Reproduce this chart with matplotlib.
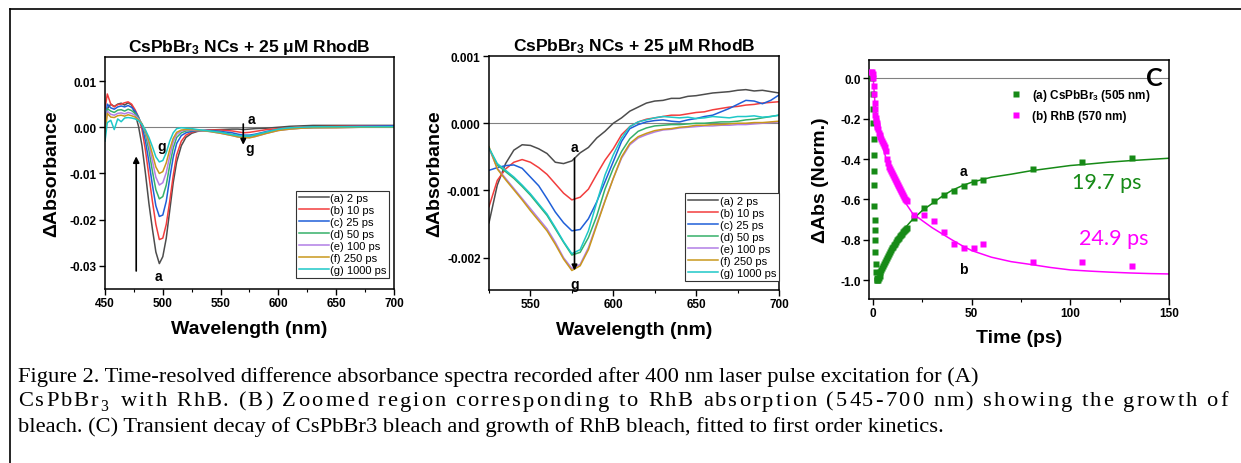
import re
import matplotlib
matplotlib.use("Agg")
import matplotlib.pyplot as plt
from matplotlib.lines import Line2D

plt.rcParams['font.family'] = ['Liberation Sans', 'DejaVu Sans']
plt.rcParams['axes.unicode_minus'] = False
plt.rcParams['mathtext.fontset'] = 'custom'
plt.rcParams['mathtext.rm'] = 'Liberation Serif'
plt.rcParams['mathtext.it'] = 'Liberation Serif:italic'
plt.rcParams['mathtext.bf'] = 'Liberation Sans:bold'
plt.rcParams['mathtext.sf'] = 'Liberation Sans'

# ---------------- data ----------------
labels = ['(a) 2 ps', '(b) 10 ps', '(c) 25 ps', '(d) 50 ps', '(e) 100 ps', '(f) 250 ps', '(g) 1000 ps']
colors = ['#4d4d4d', '#f23d3d', '#1f5fd8', '#35b06a', '#b27ee6', '#c9981c', '#1ec8c8']

# Panel A: full spectra
wl_A = [450, 452, 455, 458, 461, 464, 467, 470, 473, 476, 479, 482, 485, 488, 491, 494, 497, 500,
        503, 506, 509, 512, 516, 520, 525, 530, 540, 550, 560, 565, 570, 575, 580, 590, 600, 610,
        620, 630, 650, 670, 700]
A_a = [0.002, 0.004, 0.005, 0.0045, 0.005, 0.0052, 0.0048, 0.0053, 0.0048, 0.003, 0.0002, -0.004, -0.010,
       -0.0165, -0.022, -0.027, -0.0295, -0.028, -0.024, -0.018, -0.012, -0.0075, -0.004, -0.0022, -0.0013,
       -0.0009, -0.0006, -0.0005, -0.0004, -0.0004, -0.0005, -0.0004, -0.0003, -0.0002, 0.0, 0.0002,
       0.0003, 0.0004, 0.0004, 0.0004, 0.0004]
A_b = [0.004, 0.0072, 0.005, 0.0044, 0.0049, 0.005, 0.0053, 0.0055, 0.005, 0.0038, 0.0022, -0.0005, -0.005,
       -0.0105, -0.016, -0.021, -0.0243, -0.024, -0.021, -0.016, -0.0105, -0.006, -0.003, -0.0017, -0.0011,
       -0.0008, -0.0006, -0.0006, -0.0008, -0.001, -0.0012, -0.0011, -0.0009, -0.0005, -0.0003, -0.0001,
       0.0001, 0.0001, 0.0002, 0.0003, 0.0003]
A_c = [0.001, 0.005, 0.0042, 0.0039, 0.0044, 0.0046, 0.0044, 0.0047, 0.0043, 0.0035, 0.0022, 0.0003, -0.003,
       -0.0075, -0.0125, -0.017, -0.0193, -0.019, -0.016, -0.011, -0.0065, -0.0035, -0.0018, -0.0012, -0.0009,
       -0.0007, -0.0007, -0.0009, -0.0012, -0.0015, -0.0017, -0.0017, -0.0015, -0.0009, -0.0005, -0.0002,
       -0.0001, 0.0, 0.0001, 0.0002, 0.0003]
A_d = [0.0, 0.004, 0.0035, 0.0032, 0.0037, 0.0038, 0.0035, 0.0039, 0.0036, 0.003, 0.002, 0.0007, -0.0015,
       -0.005, -0.0095, -0.0135, -0.0155, -0.015, -0.0125, -0.0082, -0.0045, -0.0022, -0.0012, -0.0008, -0.0007,
       -0.0007, -0.0008, -0.0011, -0.0016, -0.0018, -0.0019, -0.002, -0.0018, -0.0012, -0.0006, -0.0003,
       -0.0002, -0.0001, 0.0, 0.0, 0.0001]
A_e = [-0.0005, 0.0035, 0.0028, 0.0026, 0.003, 0.0031, 0.0029, 0.0032, 0.003, 0.0026, 0.0018, 0.0007, -0.001,
       -0.0037, -0.0073, -0.0108, -0.0125, -0.012, -0.0098, -0.0062, -0.0032, -0.0015, -0.0008, -0.0006, -0.0006,
       -0.0007, -0.0009, -0.0013, -0.0018, -0.0021, -0.0022, -0.0022, -0.002, -0.0013, -0.0007, -0.0004,
       -0.0002, -0.0001, -0.0001, 0.0, 0.0]
A_f = [-0.0015, 0.003, 0.0022, 0.0021, 0.0025, 0.0026, 0.0024, 0.0027, 0.0025, 0.0022, 0.0016, 0.0007, -0.0008,
       -0.003, -0.0058, -0.0086, -0.0100, -0.0096, -0.0077, -0.0048, -0.0024, -0.0011, -0.0006, -0.0005, -0.0005,
       -0.0006, -0.0009, -0.0013, -0.0018, -0.0021, -0.0022, -0.0023, -0.002, -0.0013, -0.0007, -0.0004,
       -0.0002, -0.0001, -0.0001, 0.0, 0.0]
A_g = [-0.003, 0.001, 0.0015, -0.0005, 0.0018, 0.0012, 0.002, 0.0021, 0.002, 0.0018, 0.0014, 0.0006, -0.0006,
       -0.0022, -0.0042, -0.0064, -0.0075, -0.0072, -0.0055, -0.003, -0.0012, -0.0003, -0.0001, -0.0002, -0.0003,
       -0.0005, -0.0008, -0.0011, -0.0016, -0.0018, -0.0019, -0.0019, -0.0016, -0.001, -0.0004, -0.0001,
       0.0, 0.0001, 0.0001, 0.0001, 0.0001]
spectra_A = [A_a, A_b, A_c, A_d, A_e, A_f, A_g]

# Panel B: zoomed RhB region
wl_B = [525, 530, 535, 540, 545, 550, 555, 560, 565, 570, 575, 580, 585, 590, 595, 600, 605, 610,
        615, 620, 625, 630, 635, 640, 645, 650, 655, 660, 665, 670, 675, 680, 685, 690, 695, 700]
B_a = [-0.00148, -0.00092, -0.00060, -0.00040, -0.00032, -0.00033, -0.00038, -0.00045, -0.00058, -0.00060,
       -0.00056, -0.00044, -0.00036, -0.00022, -0.00012, 0.00000, 0.00008, 0.00018, 0.00024, 0.00030,
       0.00033, 0.00034, 0.00037, 0.00037, 0.00040, 0.00041, 0.00043, 0.00045, 0.00046, 0.00047,
       0.00049, 0.00050, 0.00048, 0.00049, 0.00047, 0.00045]
B_b = [-0.00124, -0.00085, -0.00068, -0.00058, -0.00054, -0.00058, -0.00066, -0.00076, -0.00090, -0.00104,
       -0.00114, -0.00110, -0.00098, -0.00076, -0.00055, -0.00038, -0.00017, -0.00005, 0.00002, 0.00006,
       0.00008, 0.00010, 0.00012, 0.00012, 0.00014, 0.00016, 0.00017, 0.00020, 0.00022, 0.00024,
       0.00025, 0.00027, 0.00028, 0.00030, 0.00031, 0.00032]
B_c = [-0.00070, -0.00066, -0.00063, -0.00062, -0.00067, -0.00080, -0.00093, -0.00112, -0.00132, -0.00148,
       -0.00160, -0.00158, -0.00142, -0.00117, -0.00087, -0.00057, -0.00027, -0.00008, -0.00002, 0.00002,
       0.00004, 0.00005, 0.00003, 0.00002, 0.00005, 0.00007, 0.00010, 0.00012, 0.00017, 0.00022,
       0.00028, 0.00034, 0.00033, 0.00029, 0.00034, 0.00042]
B_d = [-0.00037, -0.00062, -0.00072, -0.00082, -0.00094, -0.00107, -0.00122, -0.00137, -0.00157, -0.00177,
       -0.00196, -0.00192, -0.00170, -0.00138, -0.00098, -0.00067, -0.00042, -0.00023, -0.00012, -0.00007,
       -0.00004, -0.00003, -0.00002, -0.00002, -0.00001, 0.00000, 0.00000, 0.00001, 0.00002, 0.00002,
       0.00003, 0.00005, 0.00006, 0.00008, 0.00010, 0.00012]
B_e = [-0.00037, -0.00067, -0.00082, -0.00097, -0.00112, -0.00127, -0.00142, -0.00157, -0.00177, -0.00200,
       -0.00216, -0.00210, -0.00185, -0.00150, -0.00115, -0.00082, -0.00052, -0.00032, -0.00022, -0.00017,
       -0.00013, -0.00010, -0.00009, -0.00007, -0.00006, -0.00005, -0.00004, -0.00004, -0.00003, -0.00003,
       -0.00002, -0.00002, -0.00001, 0.00000, 0.00001, 0.00002]
B_f = [-0.00035, -0.00068, -0.00084, -0.00099, -0.00114, -0.00130, -0.00145, -0.00160, -0.00180, -0.00202,
       -0.00219, -0.00212, -0.00188, -0.00152, -0.00116, -0.00082, -0.00050, -0.00030, -0.00020, -0.00015,
       -0.00011, -0.00009, -0.00008, -0.00006, -0.00005, -0.00003, -0.00003, -0.00002, -0.00002, -0.00001,
       0.00000, 0.00000, 0.00001, 0.00001, 0.00002, 0.00003]
B_g = [-0.00037, -0.00060, -0.00070, -0.00080, -0.00092, -0.00105, -0.00120, -0.00135, -0.00155, -0.00176,
       -0.00194, -0.00188, -0.00160, -0.00118, -0.00077, -0.00047, -0.00022, -0.00005, 0.00002, 0.00005,
       0.00008, 0.00010, 0.00009, 0.00008, 0.00009, 0.00007, 0.00008, 0.00010, 0.00009, 0.00008,
       0.00010, 0.00010, 0.00011, 0.00009, 0.00010, 0.00012]
spectra_B = [B_a, B_b, B_c, B_d, B_e, B_f, B_g]

# Panel C: kinetics
t_a = [-0.3, 0.0, 0.1, 0.2, 0.3, 0.4, 0.5, 0.6, 0.7, 0.8, 0.9, 1.0, 1.2, 1.4, 1.6, 1.8, 2.0, 2.3, 2.6,
       3.0, 3.4, 3.8, 4.2, 4.6, 5.0, 5.5, 6.0, 6.5, 7.0, 7.5, 8.0, 8.5, 9.0, 9.5, 10.0, 10.5, 11.0, 11.5,
       12.0, 12.5, 13.0, 13.5, 14.0, 14.5, 15.0, 15.5, 16.0, 16.5, 17.0, 21, 26, 31, 36, 41, 46, 51, 56,
       81, 106, 131]
kin_a = [0.0, -0.08, -0.15, -0.22, -0.30, -0.38, -0.46, -0.53, -0.63, -0.70, -0.75, -0.80, -0.86, -0.92,
         -0.96, -0.99, -1.0, -1.0, -1.0, -0.99, -0.98, -0.96, -0.95, -0.94, -0.93, -0.92, -0.91, -0.90,
         -0.89, -0.88, -0.87, -0.86, -0.85, -0.84, -0.835, -0.825, -0.82, -0.81, -0.80, -0.795, -0.79,
         -0.78, -0.775, -0.77, -0.76, -0.755, -0.75, -0.745, -0.74, -0.69, -0.64, -0.61, -0.58, -0.558,
         -0.533, -0.516, -0.505, -0.449, -0.416, -0.394]
t_b = [-1.0, -0.5, 0.0, 0.2, 0.4, 0.6, 0.8, 1.0, 1.2, 1.4, 1.6, 1.8, 2.0, 2.3, 2.6, 3.0, 3.4, 3.8, 4.2,
       4.6, 5.0, 5.5, 6.0, 6.5, 7.0, 7.5, 8.0, 8.5, 9.0, 9.5, 10.0, 10.5, 11.0, 11.5, 12.0, 12.5, 13.0,
       13.5, 14.0, 14.5, 15.0, 15.5, 16.0, 16.5, 17.0, 21, 26, 31, 36, 41, 46, 51, 56, 81, 106, 131]
kin_b = [0.03, 0.03, 0.02, 0.0, -0.04, -0.08, -0.12, -0.15, -0.18, -0.195, -0.21, -0.22, -0.23, -0.24,
         -0.25, -0.27, -0.28, -0.29, -0.30, -0.31, -0.32, -0.33, -0.34, -0.36, -0.40, -0.42, -0.44, -0.45,
         -0.46, -0.47, -0.48, -0.49, -0.50, -0.51, -0.52, -0.53, -0.54, -0.55, -0.56, -0.57, -0.58, -0.59,
         -0.60, -0.605, -0.61, -0.677, -0.677, -0.706, -0.762, -0.823, -0.84, -0.84, -0.82, -0.91, -0.908,
         -0.932]
fit_t_a = [2.5, 3, 4, 5, 6, 8, 10, 12, 15, 20, 25, 30, 35, 40, 45, 50, 60, 70, 80, 90, 100, 110, 120, 130, 140, 150]
fit_a = [-1.0, -0.995, -0.97, -0.94, -0.915, -0.87, -0.83, -0.795, -0.755, -0.70, -0.655, -0.62, -0.585,
         -0.555, -0.533, -0.515, -0.49, -0.475, -0.458, -0.445, -0.432, -0.424, -0.415, -0.408, -0.402, -0.396]
fit_t_b = [0, 1, 2, 3, 4, 5, 6, 8, 10, 12, 15, 20, 25, 30, 35, 40, 45, 50, 60, 70, 80, 90, 100, 110, 120, 130, 140, 150]
fit_b = [0.02, -0.12, -0.20, -0.26, -0.30, -0.34, -0.375, -0.44, -0.495, -0.54, -0.595, -0.668, -0.705,
         -0.74, -0.77, -0.80, -0.828, -0.853, -0.886, -0.908, -0.922, -0.937, -0.949, -0.955, -0.96, -0.964,
         -0.967, -0.969]

caption = ["Figure 2. Time-resolved difference absorbance spectra recorded after 400 nm laser pulse excitation for (A)",
           "CsPbBr$_\\mathrm{3}$ with RhB. (B) Zoomed region corresponding to RhB absorption (545-700 nm) showing the growth of",
           "bleach. (C) Transient decay of CsPbBr3 bleach and growth of RhB bleach, fitted to first order kinetics."]
caption_justify = [False, True, False]
title_txt = 'CsPbBr$_\\mathbf{3}$ NCs + 25 μM RhodB'

# ---------------- figure ----------------
W, H = 1241, 464
fig = plt.figure(figsize=(W / 100, H / 100), dpi=100)
LBL = 14


def box(l, r, t, b):
    return [l / W, 1 - b / H, (r - l) / W, (b - t) / H]


def style(ax, fs=8.5):
    for s in ax.spines.values():
        s.set_linewidth(1.1)
    ax.tick_params(which='major', direction='out', length=4, width=1.0, labelsize=fs, pad=2)
    ax.tick_params(which='minor', direction='out', length=2.5, width=0.8)
    for lb in ax.get_xticklabels() + ax.get_yticklabels():
        lb.set_fontweight('bold')


# Panel A
axA = fig.add_axes(box(105, 394, 58, 290))
axA.axhline(0, color='#808080', lw=0.8, zorder=1)
for y, c, lab in zip(spectra_A, colors, labels):
    axA.plot(wl_A, y, color=c, lw=1.1, label=lab, zorder=2)
axA.set_xlim(450, 700)
axA.set_ylim(-0.035, 0.0152)
axA.set_xticks([450, 500, 550, 600, 650, 700])
axA.set_xticks([475, 525, 575, 625, 675], minor=True)
axA.set_yticks([0.01, 0.0, -0.01, -0.02, -0.03])
axA.set_yticklabels(['0.01', '0.00', '-0.01', '-0.02', '-0.03'])
style(axA)
axA.set_xlabel('Wavelength (nm)', fontsize=LBL, fontweight='bold', labelpad=7.5)
axA.set_ylabel('ΔAbsorbance', fontsize=LBL, fontweight='bold', labelpad=7)
axA.set_title(title_txt, fontsize=12.5, fontweight='bold', pad=4)
axA.annotate('', xy=(477, -0.0063), xytext=(477, -0.0311),
             arrowprops=dict(arrowstyle='-|>', color='k', lw=1.2, mutation_scale=9, shrinkA=0, shrinkB=0))
axA.annotate('', xy=(569.6, -0.0038), xytext=(569.6, 0.0007),
             arrowprops=dict(arrowstyle='-|>', color='k', lw=1.2, mutation_scale=8, shrinkA=0, shrinkB=0))
axA.text(499, -0.0041, 'g', fontsize=10, fontweight='bold', ha='center', va='center')
axA.text(496, -0.0322, 'a', fontsize=10, fontweight='bold', ha='center', va='center')
axA.text(577, 0.0018, 'a', fontsize=10, fontweight='bold', ha='center', va='center')
axA.text(575.5, -0.0045, 'g', fontsize=10, fontweight='bold', ha='center', va='center')
legA = axA.legend(loc='lower left', bbox_to_anchor=(0.66, 0.047), fontsize=8, frameon=True, fancybox=False,
                  edgecolor='#333333', framealpha=1, borderaxespad=0, borderpad=0.25, labelspacing=0.18,
                  handlelength=2.7, handletextpad=0.15)
legA.get_frame().set_linewidth(0.8)

# Panel B
axB = fig.add_axes(box(489, 779, 57, 291))
axB.axhline(0, color='#808080', lw=0.8, zorder=1)
for y, c, lab in zip(spectra_B, colors, labels):
    axB.plot(wl_B, y, color=c, lw=1.1, label=lab, zorder=2)
axB.set_xlim(525, 700)
axB.set_ylim(-0.00248, 0.001)
axB.set_xticks([550, 600, 650, 700])
axB.set_xticks([525, 575, 625, 675], minor=True)
axB.set_yticks([0.001, 0.0, -0.001, -0.002])
axB.set_yticklabels(['0.001', '0.000', '-0.001', '-0.002'])
style(axB)
axB.set_xlabel('Wavelength (nm)', fontsize=LBL, fontweight='bold', labelpad=7.5)
axB.set_ylabel('ΔAbsorbance', fontsize=LBL, fontweight='bold', labelpad=3)
axB.set_title(title_txt, fontsize=12.5, fontweight='bold', pad=4)
axB.annotate('', xy=(576.6, -0.00219), xytext=(576.6, -0.00052),
             arrowprops=dict(arrowstyle='-|>', color='k', lw=1.2, mutation_scale=8, shrinkA=0, shrinkB=0))
axB.text(576.6, -0.00035, 'a', fontsize=10, fontweight='bold', ha='center', va='center')
axB.text(576.6, -0.00239, 'g', fontsize=10, fontweight='bold', ha='center', va='center')
legB = axB.legend(loc='lower right', bbox_to_anchor=(1.0, 0.04), fontsize=8, frameon=True, fancybox=False,
                  edgecolor='#333333', framealpha=1, borderaxespad=0, borderpad=0.25, labelspacing=0.18,
                  handlelength=2.7, handletextpad=0.15)
legB.get_frame().set_linewidth(0.8)

# Panel C
axC = fig.add_axes(box(869, 1169, 60.7, 300))
axC.axhline(0, color='#808080', lw=0.8, zorder=1)
green = '#168a16'
mag = '#ff00ff'
axC.plot(fit_t_a, fit_a, color=green, lw=1.1, zorder=2)
axC.plot(fit_t_b, fit_b, color=mag, lw=1.1, zorder=2)
axC.plot(t_a, kin_a, 's', color=green, ms=4, mec='none', label='(a) CsPbBr$_\\mathbf{3}$ (505 nm)', zorder=3)
axC.plot(t_b, kin_b, 's', color=mag, ms=4, mec='none', label='(b) RhB (570 nm)', zorder=3)
axC.set_xlim(-2, 150)
axC.set_ylim(-1.093, 0.092)
axC.set_xticks([0, 50, 100, 150])
axC.set_xticks([25, 75, 125], minor=True)
axC.set_yticks([0.0, -0.2, -0.4, -0.6, -0.8, -1.0])
axC.set_yticklabels(['0.0', '-0.2', '-0.4', '-0.6', '-0.8', '-1.0'])
style(axC)
axC.set_xlabel('Time (ps)', fontsize=LBL, fontweight='bold', labelpad=7)
axC.set_ylabel('ΔAbs (Norm.)', fontsize=LBL, fontweight='bold', labelpad=8)
axC.text(45.7, -0.457, 'a', fontsize=10, fontweight='bold', ha='center', va='center')
axC.text(45.7, -0.944, 'b', fontsize=10, fontweight='bold', ha='center', va='center')
axC.text(118.4, -0.515, '19.7 ps', fontsize=15.5, color=green, family='Lato', ha='center', va='center')
axC.text(121.8, -0.79, '24.9 ps', fontsize=15.5, color=mag, family='Lato', ha='center', va='center')
axC.text(147, 0.005, 'C', fontsize=18, fontweight='bold', family='Lato', ha='right', va='center')
legC = axC.legend(loc='upper left', bbox_to_anchor=(0.473, 0.885), frameon=False, borderaxespad=0,
                  handlelength=0.8, handletextpad=1.0, labelspacing=0.55, borderpad=0,
                  prop={'weight': 'bold', 'size': 8.5})

# Caption
fig.canvas.draw()
renderer = fig.canvas.get_renderer()
CAP_FS = 16.2
x_left, x_right = 18, 1228
meas = fig.text(0, 0, '', fontsize=CAP_FS, family='Liberation Serif')


def width(s):
    meas.set_text(s)
    return meas.get_window_extent(renderer).width


for i, (line, just) in enumerate(zip(caption, caption_justify)):
    yy = 1 - (377 + 25 * i) / H
    if not just:
        fig.text(x_left / W, yy, line, fontsize=CAP_FS, family='Liberation Serif', ha='left', va='center')
    else:
        tokens = re.findall(r'\$[^$]*\$|.', line)
        natural = width(line)
        extra = (x_right - x_left - natural) / (len(tokens) - 1)
        for k, tok in enumerate(tokens):
            if tok == ' ':
                continue
            prefix = ''.join(tokens[:k])
            pos = width(prefix + tok) - width(tok) if k > 0 else 0.0
            fig.text((x_left + pos + k * extra) / W, yy, tok, fontsize=CAP_FS, family='Liberation Serif',
                     ha='left', va='center_baseline' if tok.startswith('$') else 'center')
meas.set_text('')

# Outer frame
fig.add_artist(Line2D([9.5 / W, 9.5 / W], [0, 1 - 10 / H], color='black', lw=1.2, transform=fig.transFigure))
fig.add_artist(Line2D([9.5 / W, 1.0], [1 - 10 / H, 1 - 10 / H], color='black', lw=1.2, transform=fig.transFigure))

fig.savefig('out.png', dpi=100)
